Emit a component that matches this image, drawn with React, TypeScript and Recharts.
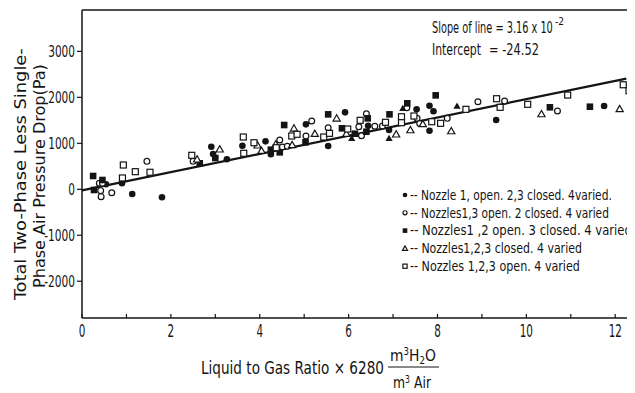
import { useLayoutEffect, useRef, useState } from 'react'
import { ReferenceLine, Scatter, ScatterChart, XAxis, YAxis } from 'recharts'

const FONT = "'Liberation Sans Narrow', 'DejaVu Sans Condensed', 'Liberation Sans', Arial, sans-serif"
const INK = '#141414'

// x: liquid to gas ratio (scaled), y: two-phase less single-phase pressure drop, Pa
const nozzle1Open: [number, number][] = [
  [0.54, 108], [0.9, 130], [1.13, -102], [1.8, -174], [2.91, 926], [2.95, 767], [3.26, 652],
  [3.61, 948], [4.13, 1043], [4.25, 761], [5.04, 1413], [5.54, 941], [5.92, 1674], [6.44, 1383],
  [6.91, 1289], [7.53, 1739], [7.82, 1817], [7.91, 1696], [7.82, 1274], [9.32, 1507], [11.75, 1811],
]
const nozzles13Open: [number, number][] = [
  [0.39, 130], [0.46, 130], [0.42, -30], [0.43, -160], [0.67, -74], [1.46, 608], [2.5, 608],
  [4.45, 1072], [4.51, 920], [4.62, 935], [5.04, 1159], [5.17, 1485], [5.54, 1339], [6.23, 1361],
  [6.29, 1165], [6.4, 1644], [6.59, 1370], [6.76, 1376], [7.31, 1774], [7.54, 1543], [7.6, 1430],
  [8.22, 1543], [8.91, 1905], [9.51, 1920], [10.7, 1702], [12.37, 1761],
]
const nozzles12Open: [number, number][] = [
  [0.25, 289], [0.27, -15], [0.46, 202], [2.65, 565], [3.0, 680], [4.25, 861], [4.45, 804],
  [4.55, 1398], [5.03, 1022], [5.54, 1630], [5.85, 1326], [6.14, 1209], [6.4, 1252], [6.43, 1543],
  [6.92, 1630], [7.32, 1870], [7.96, 2043], [10.53, 1783], [11.43, 1796], [12.37, 1891],
]
const allClosed: [number, number][] = [
  [2.59, 652], [3.1, 870], [3.95, 957], [4.04, 839], [4.36, 978], [4.73, 963], [4.77, 1326],
  [5.24, 1209], [5.73, 1543], [5.95, 1209], [7.07, 1196], [7.39, 1289], [7.67, 1420], [8.31, 1267],
  [10.34, 1637], [12.1, 1746],
]
const allClosedSolid: [number, number][] = [
  [6.07, 1109], [6.91, 1109], [7.22, 1761], [8.44, 1811],
]
const allOpen: [number, number][] = [
  [0.91, 246], [0.93, 528], [1.2, 383], [1.53, 370], [2.47, 739], [3.63, 1137], [3.64, 783],
  [3.87, 1013], [4.37, 904], [4.72, 1159], [4.84, 1196], [5.44, 1137], [5.57, 1217], [5.98, 1311],
  [6.26, 1500], [6.83, 1457], [7.19, 1578], [7.19, 1448], [7.47, 1594], [7.87, 1470], [8.07, 1435],
  [8.64, 1739], [9.33, 1970], [9.41, 1783], [10.03, 1848], [10.93, 2050], [12.18, 2274], [12.31, 2144],
]

const X_TICKS = [0, 1, 2, 3, 4, 5, 6, 7, 8, 9, 10, 11, 12]
const Y_TICKS = [-2000, -1000, 0, 1000, 2000, 3000]
const X_MAX = 12.4
const Y_DOMAIN: [number, number] = [-2800, 3900]

// fitted line: slope per unit L/G, axis carries L/G x 6280
const SLOPE = 3.16e-2
const RATIO_SCALE = 6280
const INTERCEPT = -24.52
const LINE_END = 12.25
const fitAt = (x: number) => INTERCEPT + SLOPE * RATIO_SCALE * x

type Kind = 'dot' | 'ring' | 'block' | 'box' | 'tri' | 'solidTri'

const SERIES: { kind: Kind; data: [number, number][]; label?: string; len?: number }[] = [
  { kind: 'dot', data: nozzle1Open, label: '-- Nozzle 1, open. 2,3 closed. 4varied.', len: 202 },
  { kind: 'ring', data: nozzles13Open, label: '-- Nozzles1,3 open. 2 closed. 4 varied', len: 199 },
  { kind: 'block', data: nozzles12Open, label: '-- Nozzles1 ,2 open. 3 closed. 4 varied', len: 222 },
  { kind: 'tri', data: allClosed, label: '-- Nozzles1,2,3 closed. 4 varied', len: 172 },
  { kind: 'box', data: allOpen, label: '-- Nozzles 1,2,3 open. 4 varied', len: 170 },
  { kind: 'solidTri', data: allClosedSolid },
]

// narrow lettering: measure the run and squeeze it horizontally to `len`
function Narrow({ x, y, len, children, ...rest }: any) {
  const ref = useRef<SVGTextElement>(null)
  const [k, setK] = useState(1)
  useLayoutEffect(() => {
    const w = ref.current?.getComputedTextLength()
    if (w) setK(len / w)
  }, [len])
  return (
    <g transform={`translate(${x}, ${y}) scale(${k}, 1)`}>
      <text ref={ref} x={0} y={0} {...rest}>{children}</text>
    </g>
  )
}

function Marker({ kind, cx, cy, s = 1 }: { kind: Kind; cx: number; cy: number; s?: number }) {
  const sw = 1.2
  switch (kind) {
    case 'dot':
      return <circle cx={cx} cy={cy} r={3.3 * s} fill={INK} />
    case 'ring':
      return <circle cx={cx} cy={cy} r={2.9 * s} fill="#fff" stroke={INK} strokeWidth={sw} />
    case 'block':
      return <rect x={cx - 3.3 * s} y={cy - 3.3 * s} width={6.6 * s} height={6.6 * s} fill={INK} />
    case 'box':
      return <rect x={cx - 3 * s} y={cy - 3 * s} width={6 * s} height={6 * s} fill="#fff" stroke={INK} strokeWidth={sw} />
    default: {
      const h = 3.6 * s
      const pts = `${cx},${cy - h} ${cx - h},${cy + h * 0.75} ${cx + h},${cy + h * 0.75}`
      return kind === 'tri'
        ? <polygon points={pts} fill="#fff" stroke={INK} strokeWidth={sw} />
        : <polygon points={pts} fill={INK} />
    }
  }
}

function XTick({ x, y, payload }: any) {
  const v = payload.value
  const len = String(v).length * 6.6
  return (
    <g>
      <line x1={x} x2={x} y1={y} y2={y - 4} stroke={INK} strokeWidth={1.2} />
      {v % 2 === 0 && (
        <Narrow x={x - len / 2} y={y + 19} len={len} fontSize={17} fontFamily={FONT} fill={INK}>{v}</Narrow>
      )}
    </g>
  )
}

function YTick({ x, y, payload }: any) {
  const v = payload.value
  const digits = String(Math.abs(v)).length
  const len = digits * 6.7 + (v < 0 ? 4 : 0)
  return (
    <Narrow x={x - len} y={y} len={len} dominantBaseline="central" fontSize={16} fontFamily={FONT} fill={INK}>
      {v}
    </Narrow>
  )
}

function YTitle({ viewBox }: any) {
  const cy = viewBox.y + viewBox.height / 2 + 10
  return (
    <g fontFamily={FONT} fontSize={16} fill={INK}>
      <g transform={`translate(12, ${cy}) rotate(-90)`}>
        <Narrow x={-126} y={0} len={252} dominantBaseline="central">Total Two-Phase Less Single-</Narrow>
      </g>
      <g transform={`translate(31, ${cy + 2}) rotate(-90)`}>
        <Narrow x={-112} y={0} len={224} dominantBaseline="central">Phase Air Pressure Drop(Pa)</Narrow>
      </g>
    </g>
  )
}

function XTitle() {
  return (
    <g fontFamily={FONT} fontSize={17} fill={INK}>
      <Narrow x={193} y={366} len={183}>Liquid to Gas Ratio × 6280</Narrow>
      <Narrow x={382} y={353} len={46} fontSize={16}>
        m<tspan dy={-6} fontSize={10}>3</tspan><tspan dy={6}>H</tspan><tspan dy={3} fontSize={10}>2</tspan><tspan dy={-3}>O</tspan>
      </Narrow>
      <line x1={380} x2={431} y1={359} y2={359} stroke={INK} strokeWidth={1.2} />
      <Narrow x={385} y={380} len={38} fontSize={16}>
        m<tspan dy={-5} fontSize={10}>3</tspan><tspan dy={5}> Air</tspan>
      </Narrow>
    </g>
  )
}

export default function App() {
  return (
    <div style={{ position: 'relative', width: 627, height: 385 }}>
      <ScatterChart width={627} height={385} margin={{ top: 2, right: 2, left: 0, bottom: 0 }}>
        <XAxis
          type="number"
          dataKey="x"
          domain={[0, X_MAX]}
          ticks={X_TICKS}
          interval={0}
          height={75}
          tickSize={0}
          tickMargin={0}
          tickLine={false}
          tick={<XTick />}
          axisLine={{ stroke: INK, strokeWidth: 1.5 }}
          label={{ content: () => <XTitle /> }}
        />
        <YAxis
          type="number"
          dataKey="y"
          domain={Y_DOMAIN}
          ticks={Y_TICKS}
          interval={0}
          width={74}
          tickSize={5}
          tickMargin={2}
          tick={<YTick />}
          tickLine={{ stroke: INK, strokeWidth: 1.2 }}
          axisLine={{ stroke: INK, strokeWidth: 1.5 }}
          label={{ content: (p: any) => <YTitle {...p} /> }}
        />
        <ReferenceLine y={Y_DOMAIN[1]} stroke={INK} strokeWidth={1.5} ifOverflow="visible" />
        <ReferenceLine x={X_MAX} stroke={INK} strokeWidth={1.5} ifOverflow="visible" />
        <ReferenceLine
          segment={[{ x: 0, y: fitAt(0) }, { x: LINE_END, y: fitAt(LINE_END) }]}
          stroke={INK}
          strokeWidth={2.2}
          ifOverflow="visible"
        />
        {SERIES.map((s, i) => (
          <Scatter
            key={i}
            data={s.data.map(([x, y]) => ({ x, y }))}
            isAnimationActive={false}
            shape={(p: any) => <Marker kind={s.kind} cx={p.cx} cy={p.cy} />}
          />
        ))}
      </ScatterChart>
      <svg width={627} height={385} style={{ position: 'absolute', left: 0, top: 0, pointerEvents: 'none' }}>
        <g fontFamily={FONT} fontSize={15} fill={INK}>
          <Narrow x={424} y={25} len={121}>Slope of line = {(SLOPE * 100).toFixed(2)} x 10</Narrow>
          <Narrow x={547} y={17} len={9} fontSize={11}>-2</Narrow>
          <Narrow x={424} y={47} len={49}>Intercept</Narrow>
          <Narrow x={481} y={47} len={50}>= {INTERCEPT}</Narrow>
        </g>
        <g fontFamily={FONT} fontSize={14} fill={INK}>
          {SERIES.filter((s) => s.label).map((s, i) => {
            const cy = 187 + i * 17.8
            return (
              <g key={s.kind}>
                <Marker kind={s.kind} cx={397} cy={cy} s={0.7} />
                <Narrow x={402} y={cy} len={s.len} dominantBaseline="central">{s.label}</Narrow>
              </g>
            )
          })}
        </g>
      </svg>
    </div>
  )
}
